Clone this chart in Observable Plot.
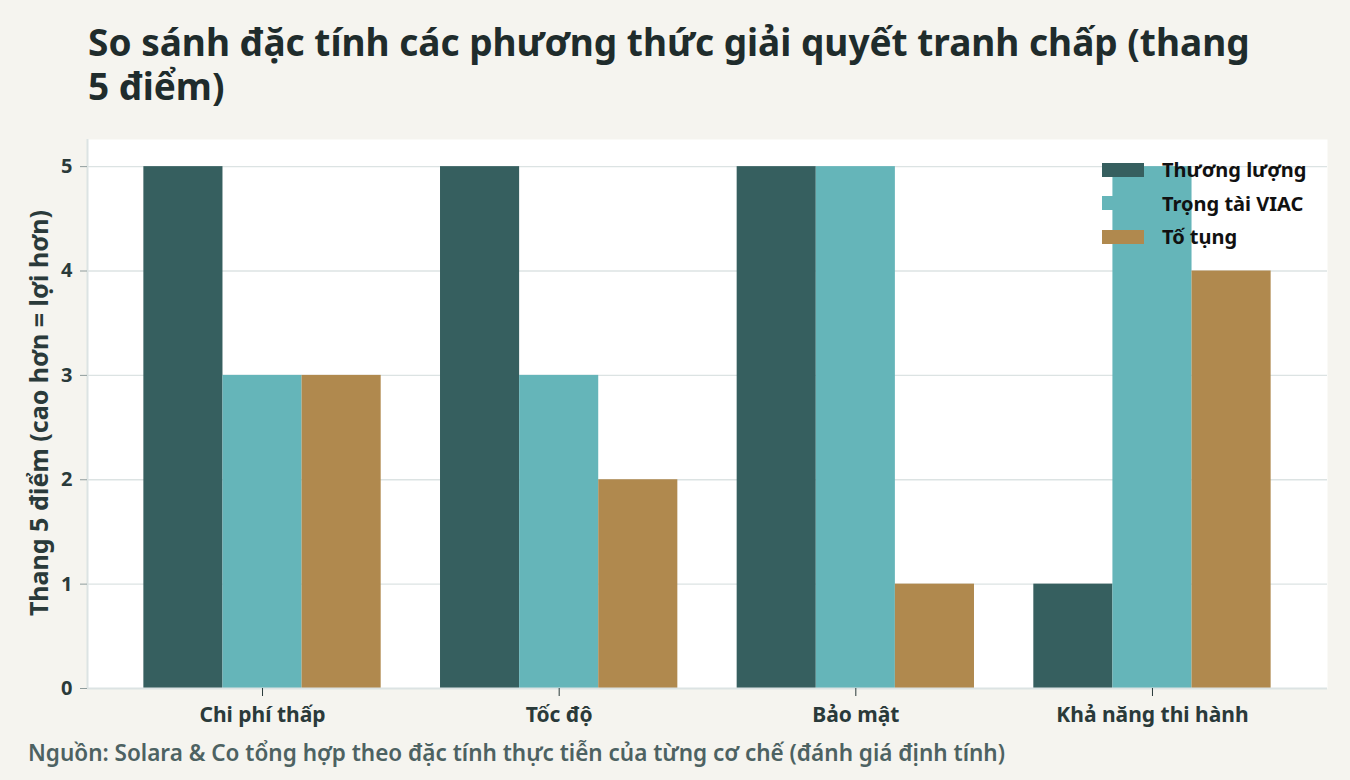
<!DOCTYPE html>
<html><head><meta charset="utf-8">
<script src="https://cdn.jsdelivr.net/npm/d3@7"></script>
<script src="https://cdn.jsdelivr.net/npm/@observablehq/plot@0.6"></script>
<style>
html,body{margin:0;padding:0;background:#f5f4ef;}
#wrap{position:relative;width:1350px;height:780px;background:#f5f4ef;font-family:"Noto Sans",sans-serif;overflow:hidden;}
#title{position:absolute;left:88px;top:20px;font-size:37px;font-weight:700;color:#1f2c2c;line-height:44px;}
#chart{position:absolute;left:0;top:130px;}
#ylab{position:absolute;left:38px;top:413px;transform:translate(-50%,-50%) rotate(-90deg);white-space:nowrap;font-size:25px;font-weight:700;color:#2a3a3a;}
#legend{position:absolute;left:1102px;top:153px;}
.li{display:flex;align-items:center;height:33.5px;font-size:20px;font-weight:700;color:#111;}
.sw{width:42px;height:14px;margin-right:18px;}
#caption{position:absolute;left:28px;top:737px;font-size:22.5px;font-weight:600;color:#4d6262;white-space:nowrap;}
</style></head>
<body><div id="wrap">
<div id="title">So sánh đặc tính các phương thức giải quyết tranh chấp (thang<br>5 điểm)</div>
<div id="chart"></div>
<div id="ylab">Thang 5 điểm (cao hơn = lợi hơn)</div>
<div id="legend"></div>
<div id="caption">Nguồn: Solara &amp; Co tổng hợp theo đặc tính thực tiễn của từng cơ chế (đánh giá định tính)</div>
</div>
<script>
const categories = ["Chi phí thấp", "Tốc độ", "Bảo mật", "Khả năng thi hành"];
const series = ["Thương lượng", "Trọng tài VIAC", "Tố tụng"];
const colors = ["#365f5f", "#65b5b9", "#b0894e"];
const thuongLuong = [5, 5, 5, 1];
const trongTai = [3, 3, 5, 5];
const toTung = [3, 2, 1, 4];
const yTicks = [0, 1, 2, 3, 4, 5];

const values = [thuongLuong, trongTai, toTung];
const groupWidth = 0.8;
const barW = groupWidth / series.length;
const data = [];
categories.forEach((c, i) => series.forEach((s, j) => {
  const x1 = i - groupWidth / 2 + j * barW;
  data.push({cat: c, series: s, value: values[j][i], x1, x2: x1 + barW});
}));

const chart = Plot.plot({
  width: 1350, height: 610,
  marginTop: 9, marginBottom: 52, marginLeft: 87, marginRight: 23,
  style: {fontFamily: '"Noto Sans",sans-serif', background: "transparent"},
  x: {domain: [-0.59, categories.length - 1 + 0.59], axis: null},
  y: {domain: [0, 5.26], axis: null},
  color: {domain: series, range: colors},
  marks: [
    Plot.frame({fill: "white", stroke: null}),
    Plot.ruleY(yTicks.filter(d => d > 0), {stroke: "#dce3e3", strokeWidth: 1.3}),
    Plot.ruleX([-0.59], {stroke: "#dce3e3", strokeWidth: 2}),
    Plot.rectY(data, {x1: "x1", x2: "x2", y1: 0, y2: "value", fill: "series", inset: 0}),
    Plot.ruleY([0], {stroke: "#dce3e3", strokeWidth: 2}),
    Plot.axisY({ticks: yTicks, tickFormat: d => String(d), tickSize: 7, tickPadding: 8, fontSize: 20, fontWeight: 700, color: "#2a3a3a", stroke: "#8f9c9c", label: null}),
    Plot.axisX({ticks: d3.range(categories.length), tickFormat: i => categories[i], tickSize: 8, tickPadding: 11, fontSize: 21, fontWeight: 700, color: "#2a3a3a", label: null})
  ]
});
document.getElementById("chart").appendChild(chart);

const leg = document.getElementById("legend");
series.forEach((s, j) => {
  const row = document.createElement("div"); row.className = "li";
  const sw = document.createElement("div"); sw.className = "sw"; sw.style.background = colors[j];
  const t = document.createElement("span"); t.textContent = s;
  row.appendChild(sw); row.appendChild(t); leg.appendChild(row);
});
</script></body></html>
